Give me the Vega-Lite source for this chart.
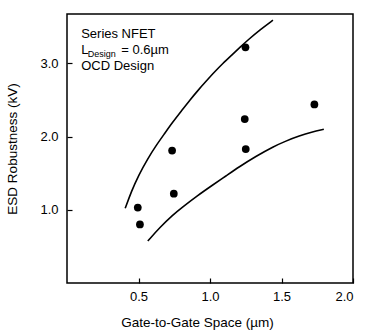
{
  "$schema": "https://vega.github.io/schema/vega-lite/v6.json",
  "autosize": {"type": "none"},
  "padding": {"left": 67, "top": 14, "right": 18, "bottom": 48},
  "width": 286,
  "height": 269,
  "background": "white",
  "config": {
    "view": {"stroke": "black", "strokeWidth": 1.5},
    "font": "Liberation Sans",
    "axis": {
      "grid": false,
      "domain": false,
      "tickColor": "black",
      "tickWidth": 1.2,
      "tickSize": -5,
      "labelColor": "black",
      "labelFontSize": 13,
      "labelFont": "Liberation Sans",
      "titleColor": "black",
      "titleFontSize": 13.5,
      "titleFont": "Liberation Sans",
      "titleFontWeight": "normal"
    }
  },
  "datasets": {
    "upper": [
      {"x": 0.407, "y": 1.02}, {"x": 0.45, "y": 1.25}, {"x": 0.5, "y": 1.47},
      {"x": 0.565, "y": 1.7}, {"x": 0.62, "y": 1.87}, {"x": 0.682, "y": 2.04},
      {"x": 0.74, "y": 2.2}, {"x": 0.8, "y": 2.35}, {"x": 0.86, "y": 2.5},
      {"x": 0.915, "y": 2.63}, {"x": 0.97, "y": 2.75}, {"x": 1.03, "y": 2.88},
      {"x": 1.09, "y": 3.0}, {"x": 1.15, "y": 3.11}, {"x": 1.21, "y": 3.22},
      {"x": 1.265, "y": 3.32}, {"x": 1.35, "y": 3.46}, {"x": 1.44, "y": 3.59}
    ],
    "lower": [
      {"x": 0.565, "y": 0.574}, {"x": 0.65, "y": 0.76}, {"x": 0.74, "y": 0.93},
      {"x": 0.81, "y": 1.04}, {"x": 0.91, "y": 1.19}, {"x": 1.02, "y": 1.34},
      {"x": 1.11, "y": 1.46}, {"x": 1.206, "y": 1.59}, {"x": 1.32, "y": 1.73},
      {"x": 1.44, "y": 1.86}, {"x": 1.53, "y": 1.94}, {"x": 1.626, "y": 2.01},
      {"x": 1.71, "y": 2.06}, {"x": 1.796, "y": 2.1}
    ],
    "points": [
      {"x": 0.495, "y": 1.03}, {"x": 0.51, "y": 0.8}, {"x": 0.735, "y": 1.81},
      {"x": 0.747, "y": 1.22}, {"x": 1.248, "y": 3.22}, {"x": 1.243, "y": 2.24},
      {"x": 1.25, "y": 1.83}, {"x": 1.73, "y": 2.44}
    ],
    "labels": [
      {"x": 0.099, "y": 3.35, "t": "Series NFET"},
      {"x": 0.099, "y": 3.13, "t": "L"},
      {"x": 0.379, "y": 3.13, "t": "= 0.6µm"},
      {"x": 0.099, "y": 2.905, "t": "OCD Design"}
    ],
    "subs": [
      {"x": 0.145, "y": 3.09, "t": "Design"}
    ]
  },
  "layer": [
    {
      "data": {"name": "upper"},
      "mark": {"type": "line", "color": "black", "strokeWidth": 1.6, "interpolate": "basis"},
      "encoding": {
        "x": {"field": "x", "type": "quantitative", "scale": {"domain": [0, 2], "nice": false, "zero": false},
              "axis": {"values": [0.5, 1.0, 1.5, 2.0], "format": ".1f", "title": "Gate-to-Gate Space (µm)", "labelPadding": 12, "titlePadding": 12, "titleX": 130}},
        "y": {"field": "y", "type": "quantitative", "scale": {"domain": [0, 3.675], "nice": false, "zero": false},
              "axis": {"values": [1.0, 2.0, 3.0], "format": ".1f", "title": "ESD Robustness (kV)", "labelPadding": 14, "titlePadding": 20}}
      }
    },
    {
      "data": {"name": "lower"},
      "mark": {"type": "line", "color": "black", "strokeWidth": 1.6, "interpolate": "basis"},
      "encoding": {
        "x": {"field": "x", "type": "quantitative"},
        "y": {"field": "y", "type": "quantitative"}
      }
    },
    {
      "data": {"name": "points"},
      "mark": {"type": "circle", "color": "black", "opacity": 1, "size": 60},
      "encoding": {
        "x": {"field": "x", "type": "quantitative"},
        "y": {"field": "y", "type": "quantitative"}
      }
    },
    {
      "data": {"name": "labels"},
      "mark": {"type": "text", "align": "left", "baseline": "alphabetic", "fontSize": 13, "color": "black", "font": "Liberation Sans"},
      "encoding": {
        "x": {"field": "x", "type": "quantitative"},
        "y": {"field": "y", "type": "quantitative"},
        "text": {"field": "t"}
      }
    },
    {
      "data": {"name": "subs"},
      "mark": {"type": "text", "align": "left", "baseline": "alphabetic", "fontSize": 9, "color": "black", "font": "Liberation Sans"},
      "encoding": {
        "x": {"field": "x", "type": "quantitative"},
        "y": {"field": "y", "type": "quantitative"},
        "text": {"field": "t"}
      }
    }
  ]
}
